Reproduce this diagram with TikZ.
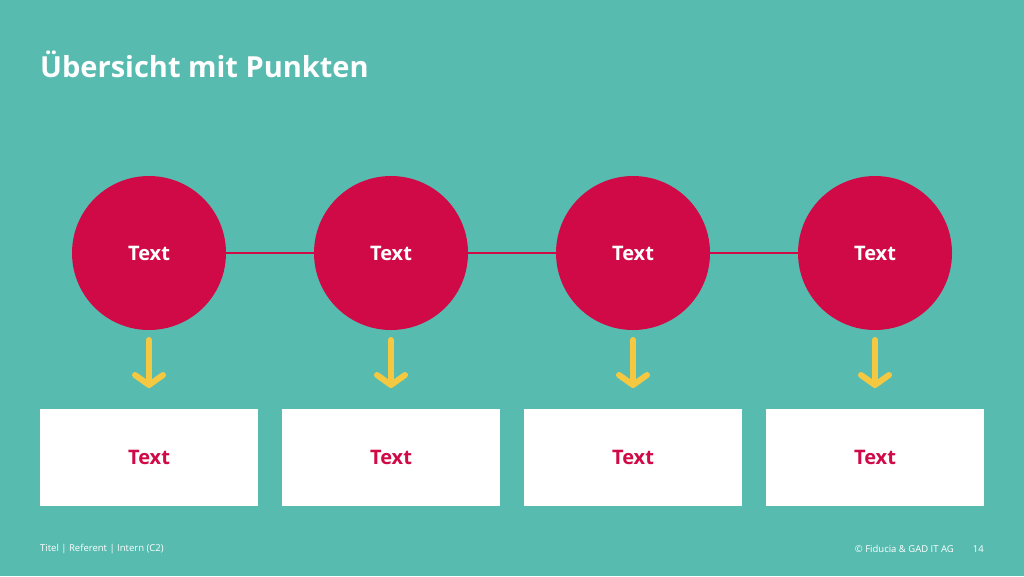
\documentclass[tikz,border=0pt]{standalone}
\usepackage{fontspec}
\setmainfont{Open Sans}
\usetikzlibrary{arrows.meta}
\definecolor{bg}{HTML}{58BBB0}
\definecolor{crim}{HTML}{D00A47}
\definecolor{yel}{HTML}{F5C842}
\begin{document}
\begin{tikzpicture}[x=1pt,y=-1pt,
  dot/.style={circle,fill=crim,minimum size=154pt,inner sep=0pt,text=white,font=\bfseries\fontsize{20}{24}\selectfont},
  card/.style={rectangle,fill=white,minimum width=218pt,minimum height=97pt,inner sep=0pt,text=crim,font=\bfseries\fontsize{20}{24}\selectfont},
  link/.style={draw=crim,line width=2pt},
  down/.style={draw=yel,line width=6pt,line cap=round,-{Straight Barb[length=10pt,width=28pt,line cap=round,line join=round]}},
  foot/.style={text=white,font=\fontsize{9.5}{11}\selectfont,inner sep=0pt}]
\fill[bg] (0,0) rectangle (1024,576);
\useasboundingbox (0,0) rectangle (1024,576);
\node[anchor=west,text=white,font=\bfseries\fontsize{29}{34}\selectfont,inner sep=0pt] (title) at (40,64) {Übersicht mit Punkten};
\foreach \i/\x in {1/149,2/391,3/633,4/875}{
  \node[dot] (c\i) at (\x,253) {Text};
  \node[card] (b\i) at (\x,457.5) {Text};
  \coordinate (s\i) at (\x,340);
  \coordinate (e\i) at (\x,388);
  \draw[down] (s\i) -- (e\i);
}
\draw[link] (c1) -- (c2);
\draw[link] (c2) -- (c3);
\draw[link] (c3) -- (c4);
\node[foot,anchor=west] (f1) at (40,549) {Titel | Referent | Intern (C2)};
\node[foot,anchor=east] (f2) at (954,549) {© Fiducia \& GAD IT AG};
\node[foot,anchor=east] (f3) at (984,549) {14};
\end{tikzpicture}
\end{document}
